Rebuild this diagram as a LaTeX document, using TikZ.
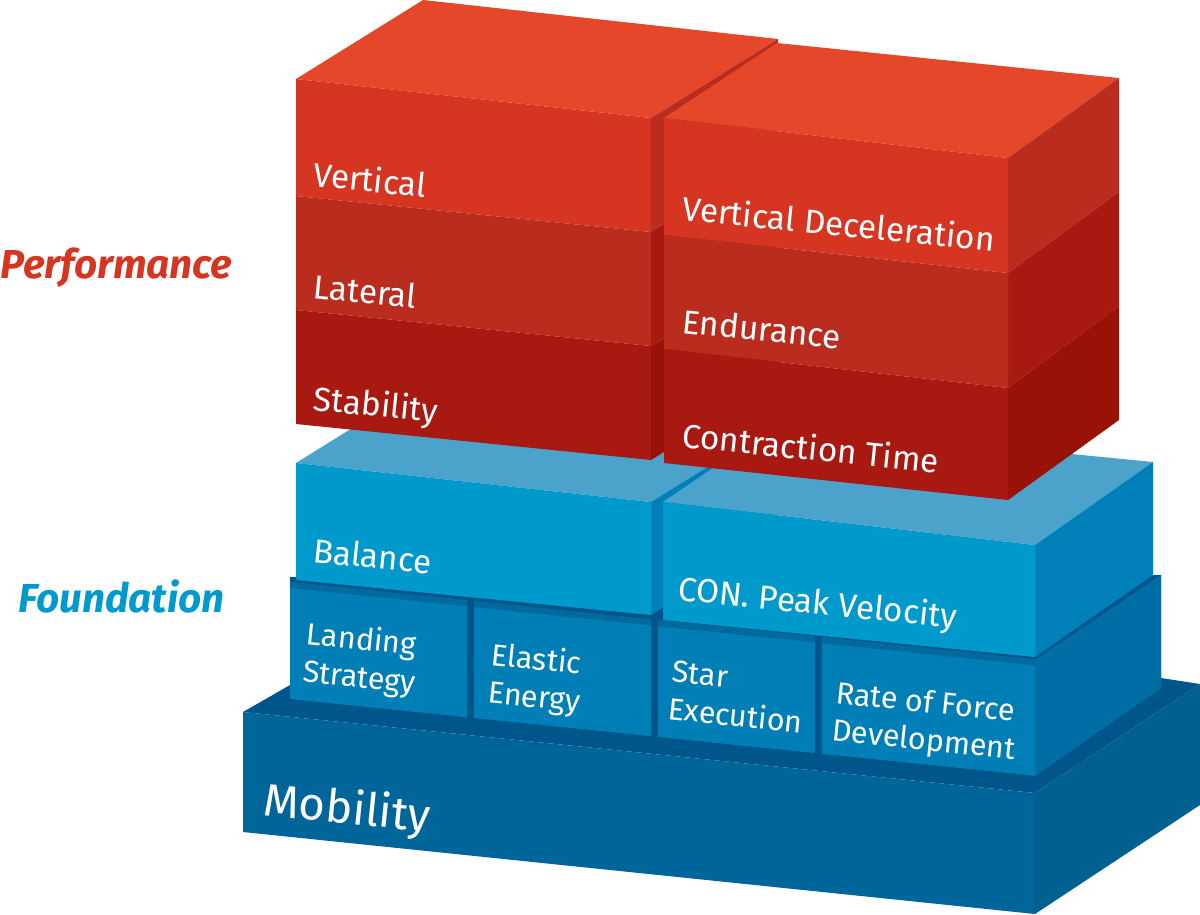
\documentclass[tikz,border=0pt]{standalone}
\usepackage{fontspec}
\setmainfont{Fira Sans}
\definecolor{redtop}{HTML}{E4472A}
\definecolor{redA}{HTML}{D63522}
\definecolor{redB}{HTML}{BA2C1E}
\definecolor{redC}{HTML}{A81912}
\definecolor{redD}{HTML}{981208}
\definecolor{bluetop}{HTML}{4BA3CC}
\definecolor{bluefront}{HTML}{0099CC}
\definecolor{blueside}{HTML}{0080B8}
\definecolor{rowfront}{HTML}{007FB6}
\definecolor{rowtop}{HTML}{006A9F}
\definecolor{rowside}{HTML}{006EA5}
\definecolor{mobfront}{HTML}{006699}
\definecolor{mobtop}{HTML}{00558A}
\definecolor{mobside}{HTML}{00608F}
\tikzset{
	lbl/.style = {white, anchor=base west, rotate=-5.8, inner sep=0pt, font=\fontsize{19}{19}\selectfont},
	twolbl/.style = {white, anchor=north west, rotate=-5.8, inner sep=0pt, align=left, font=\fontsize{17.4}{21.5}\selectfont},
	bigl/.style = {lbl, font=\fontsize{26}{26}\selectfont},
	level/.style = {anchor=base west, inner sep=0pt, font=\fontsize{23}{23}\selectfont\bfseries\itshape}
}
\begin{document}
\begin{tikzpicture}[x=0.02cm, y=-0.02cm]
	\useasboundingbox (0,0) rectangle (1200,914);
	% Mobility slab
	\fill[mobtop] (243,712) -- (290,685) -- (1161,678) -- (1200,684) -- (1035,793) -- cycle;
	\fill[mobfront] (243,712) -- (1035,793) -- (1035,914) -- (243,832) -- cycle;
	\fill[mobside] (1035,793) -- (1200,684) -- (1200,805) -- (1035,914) -- cycle;
	% lower row
	\fill[mobtop] (290,577) -- (660,590) -- (1161,575) -- (1161,688) -- (1035,776) -- (290,699) -- cycle;
	\fill[rowside] (1035,660) -- (1161,575) -- (1161,688) -- (1035,776) -- cycle;
	\foreach \xa/\xb in {290/467, 474/651, 658/815, 822/1035}{
		\fill[rowfront] (\xa,{582+0.104*(\xa-290)}) -- (\xb,{582+0.104*(\xb-290)})
			-- (\xb,{699+0.103*(\xb-290)}) -- (\xa,{699+0.103*(\xa-290)}) -- cycle;
		\fill[rowtop] (\xa,{582+0.104*(\xa-290)}) -- (\xb,{582+0.104*(\xb-290)})
			-- (\xb,{588+0.104*(\xb-290)}) -- (\xa,{588+0.104*(\xa-290)}) -- cycle;
	}
	% Balance box
	\fill[bluetop] (296,463) -- (423,384) -- (778,423) -- (651,502) -- cycle;
	\fill[blueside] (651,502) -- (778,423) -- (778,535) -- (651,615) -- cycle;
	\fill[bluefront] (296,463) -- (651,502) -- (651,615) -- (296,580) -- cycle;
	% CON box
	\fill[bluetop] (663,502) -- (776,425) -- (1153,462) -- (1035,545) -- cycle;
	\fill[blueside] (1035,545) -- (1153,462) -- (1153,575) -- (1035,657) -- cycle;
	\fill[bluefront] (663,502) -- (1035,545) -- (1035,657) -- (663,620) -- cycle;
	% left red box
	\fill[redtop] (296,79) -- (423,0) -- (778,39) -- (651,118) -- cycle;
	\fill[redB] (651,118) -- (778,39) -- (778,153) -- (651,232) -- cycle;
	\fill[redC] (651,232) -- (778,153) -- (778,267) -- (651,346) -- cycle;
	\fill[redD] (651,346) -- (778,267) -- (778,381) -- (651,460) -- cycle;
	\fill[redA] (296,79) -- (651,118) -- (651,232) -- (296,196) -- cycle;
	\fill[redB] (296,196) -- (651,232) -- (651,346) -- (296,310) -- cycle;
	\fill[redC] (296,310) -- (651,346) -- (651,460) -- (296,424) -- cycle;
	% right red box
	\fill[redtop] (664,118) -- (777,43) -- (1119,78) -- (1008,158) -- cycle;
	\fill[redB] (1008,158) -- (1119,78) -- (1119,192) -- (1008,273) -- cycle;
	\fill[redC] (1008,273) -- (1119,192) -- (1119,306) -- (1008,388) -- cycle;
	\fill[redD] (1008,388) -- (1119,306) -- (1119,420) -- (1008,500) -- cycle;
	\fill[redA] (664,118) -- (1008,158) -- (1008,273) -- (664,235) -- cycle;
	\fill[redB] (664,235) -- (1008,273) -- (1008,388) -- (664,349) -- cycle;
	\fill[redC] (664,349) -- (1008,388) -- (1008,500) -- (664,463) -- cycle;
	% labels
	\node[level, redA] (perf) at (0,278) {Performance};
	\node[level, bluefront] (found) at (18,612) {Foundation};
	\node[lbl] (vert) at (312,186) {Vertical};
	\node[lbl] (lat) at (312,298) {Lateral};
	\node[lbl] (stab) at (312,410) {Stability};
	\node[lbl] (vdec) at (681,220) {Vertical Deceleration};
	\node[lbl] (endu) at (681,333) {Endurance};
	\node[lbl] (ctime) at (681,447) {Contraction Time};
	\node[lbl] (bal) at (312,562) {Balance};
	\node[lbl] (cpv) at (677,600) {CON. Peak Velocity};
	\node[twolbl] (land) at (308,620) {Landing\\Strategy};
	\node[twolbl] (elas) at (493,641) {Elastic\\Energy};
	\node[twolbl] (star) at (673,660) {Star\\Execution};
	\node[twolbl] (rfd) at (837,680) {Rate of Force\\Development};
	\node[bigl] (mob) at (262,815) {Mobility};
\end{tikzpicture}
\end{document}
